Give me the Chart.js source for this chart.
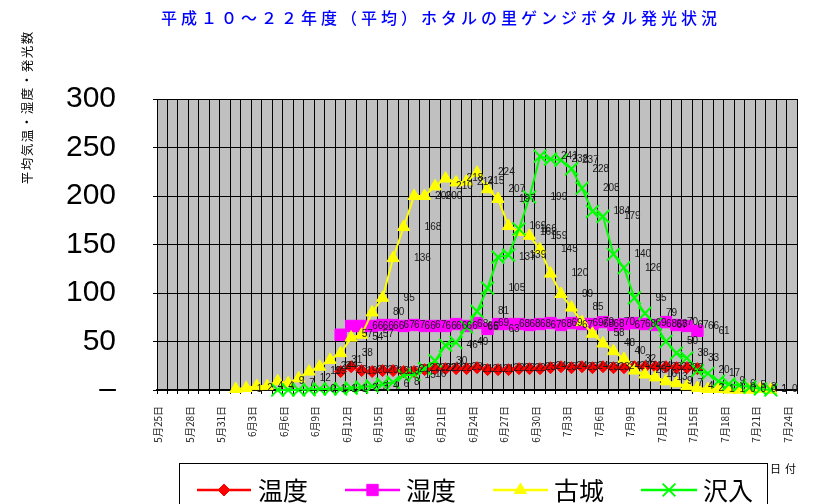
<!DOCTYPE html>
<html>
<head>
<meta charset="utf-8">
<script src="https://cdn.jsdelivr.net/npm/chart.js@4.4.0/dist/chart.umd.min.js"></script>
<style>
html, body { margin: 0; padding: 0; background: #fff; }
canvas { display: block; }
</style>
</head>
<body>
<canvas id="c" width="816" height="504"></canvas>
<script>
const days = [
	"5月25日", "5月26日", "5月27日", "5月28日", "5月29日", "5月30日", "5月31日",
	"6月1日", "6月2日", "6月3日", "6月4日", "6月5日", "6月6日", "6月7日", "6月8日", "6月9日", "6月10日",
	"6月11日", "6月12日", "6月13日", "6月14日", "6月15日", "6月16日", "6月17日", "6月18日", "6月19日", "6月20日",
	"6月21日", "6月22日", "6月23日", "6月24日", "6月25日", "6月26日", "6月27日", "6月28日", "6月29日", "6月30日",
	"7月1日", "7月2日", "7月3日", "7月4日", "7月5日", "7月6日", "7月7日", "7月8日", "7月9日", "7月10日",
	"7月11日", "7月12日", "7月13日", "7月14日", "7月15日", "7月16日", "7月17日", "7月18日", "7月19日", "7月20日",
	"7月21日", "7月22日", "7月23日", "7月24日"
];

// 温度
const temp = [
	null, null, null, null, null, null, null, null, null, null,
	null, null, null, null, null, null, null, 19, 24, 20,
	19, 20, 20, 19, 19, 21, 22, 22, 22, 22,
	23, 21, 21, 21, 22, 22, 22, 23, 24, 23,
	24, 23, 24, 23, 23, 24, 24, 24, 24, 23,
	23, 22, null, null, null, null, null, null, null, null,
	null
];

// 湿度
const humid = [
	null, null, null, null, null, null, null, null, null, null,
	null, null, null, null, null, null, null, 57, 66, 66,
	66, 67, 67, 66, 67, 66, 66, 66, 68, 66,
	69, 63, 68, 68, 68, 67, 68, 69, 67, 69,
	68, 68, 70, 67, 68, 69, 68, 67, 70, 67,
	66, 61, null, null, null, null, null, null, null, null,
	null
];

// 古城
const furushiro = [
	null, null, null, null, null, null, null, 1, 2, 4,
	4, 9, 7, 12, 19, 24, 31, 38, 54, 57,
	80, 95, 136, 168, 200, 200, 210, 218, 214, 215,
	224, 207, 197, 169, 163, 159, 145, 120, 99, 85,
	70, 58, 48, 40, 32, 20, 16, 13, 9, 7,
	4, 2, 1, 1, 0.4, 0.3, 0.3, 1, 0.3, null,
	null
];

// 沢入
const sawairi = [
	null, null, null, null, null, null, null, null, null, null,
	null, 0, 0, 0, 0.4, 1, 1, 1, 2, 3,
	4, 6, 8, 15, 16, 22, 30, 46, 49, 65,
	81, 105, 137, 139, 166, 199, 241, 238, 237, 228,
	208, 184, 179, 140, 126, 95, 79, 68, 50, 38,
	33, 20, 17, 9, 6, 5, 3, 1, 0, null,
	null
];

const yTicks = [0, 50, 100, 150, 200, 250, 300];

const cjk = '"Noto Sans CJK JP", "Noto Sans CJK SC", sans-serif';

function fmt(v) {
	if (v === 0) return "-";
	return String(Math.round(v));
}

function spacedText(ctx, text, cx, cy, spacing) {
	const chars = Array.from(text);
	const widths = chars.map(ch => ctx.measureText(ch).width);
	const total = widths.reduce((a, b) => a + b, 0) + spacing * (chars.length - 1);
	let x = cx - total / 2;
	ctx.textAlign = "left";
	ctx.textBaseline = "middle";
	chars.forEach((ch, i) => {
		ctx.fillText(ch, x, cy);
		x += widths[i] + spacing;
	});
}

const extras = {
	id: "extras",
	beforeDraw(chart) {
		const { ctx, chartArea: a } = chart;
		ctx.save();
		ctx.fillStyle = "#c0c0c0";
		ctx.fillRect(a.left, a.top, a.right - a.left, a.bottom - a.top);
		ctx.restore();
	},
	afterDatasetsDraw(chart) {
		const ctx = chart.ctx;
		ctx.save();
		ctx.font = '10px "Liberation Sans", Arial, sans-serif';
		ctx.fillStyle = "#1a1a1a";
		ctx.textBaseline = "middle";
		chart.data.datasets.forEach((ds, di) => {
			const meta = chart.getDatasetMeta(di);
			meta.data.forEach((pt, i) => {
				const v = ds.data[i];
				if (v === null || v === undefined) return;
				if (di === 0) {
					ctx.textAlign = "center";
					ctx.fillText(fmt(v), pt.x, pt.y);
				} else {
					ctx.textAlign = "left";
					ctx.fillText(fmt(v), pt.x + 21, pt.y);
				}
			});
		});
		ctx.restore();
	},
	afterDraw(chart) {
		const ctx = chart.ctx;
		ctx.save();

		// title
		ctx.font = "500 16px " + cjk;
		ctx.fillStyle = "#0000ff";
		spacedText(ctx, "平成１０～２２年度（平均）ホタルの里ゲンジボタル発光状況", 439, 18, 4);

		// y title
		ctx.save();
		ctx.translate(27, 108);
		ctx.rotate(-Math.PI / 2);
		ctx.font = "12.5px " + cjk;
		ctx.fillStyle = "#000";
		spacedText(ctx, "平均気温・湿度・発光数", 0, 0, 1.5);
		ctx.restore();

		// x title
		ctx.font = "11px " + cjk;
		ctx.fillStyle = "#000";
		spacedText(ctx, "日付", 783, 469, 4);

		// legend
		ctx.strokeStyle = "#000";
		ctx.lineWidth = 1;
		ctx.strokeRect(179.5, 463.5, 588, 60);

		const items = [
			{ x0: 197, x1: 251, tx: 258 },
			{ x0: 345, x1: 400, tx: 406 },
			{ x0: 493, x1: 548, tx: 554 },
			{ x0: 641, x1: 697, tx: 703 }
		];
		const ly = 490;
		items.forEach((it, di) => {
			const ds = chart.data.datasets[di];
			ctx.strokeStyle = ds.borderColor;
			ctx.lineWidth = 2.5;
			ctx.beginPath();
			ctx.moveTo(it.x0, ly);
			ctx.lineTo(it.x1, ly);
			ctx.stroke();
			ctx.fillStyle = ds.pointBackgroundColor;
			ctx.strokeStyle = ds.borderColor;
			ctx.lineWidth = ds.pointBorderWidth;
			Chart.helpers.drawPoint(ctx, {
				pointStyle: ds.pointStyle,
				radius: ds.pointRadius,
				rotation: 0,
				borderWidth: ds.pointBorderWidth
			}, (it.x0 + it.x1) / 2, ly);
			ctx.fillStyle = "#000";
			ctx.font = "25px " + cjk;
			ctx.textAlign = "left";
			ctx.textBaseline = "middle";
			ctx.fillText(ds.label, it.tx, ly);
		});

		ctx.restore();
	}
};

new Chart(document.getElementById("c"), {
	type: "line",
	data: {
		labels: days,
		datasets: [
			{
				label: "温度",
				data: temp,
				borderColor: "#ff0000",
				backgroundColor: "#ff0000",
				pointBackgroundColor: "#ff0000",
				pointStyle: "rectRot",
				pointRadius: 6,
				pointBorderWidth: 1,
				borderWidth: 2,
				order: 4
			},
			{
				label: "湿度",
				data: humid,
				borderColor: "#ff00ff",
				backgroundColor: "#ff00ff",
				pointBackgroundColor: "#ff00ff",
				pointStyle: "rect",
				pointRadius: 8,
				pointBorderWidth: 1,
				borderWidth: 2,
				order: 3
			},
			{
				label: "古城",
				data: furushiro,
				borderColor: "#ffff00",
				backgroundColor: "#ffff00",
				pointBackgroundColor: "#ffff00",
				pointStyle: "triangle",
				pointRadius: 7,
				pointBorderWidth: 1,
				borderWidth: 2,
				order: 2
			},
			{
				label: "沢入",
				data: sawairi,
				borderColor: "#00ff00",
				backgroundColor: "#00ff00",
				pointBackgroundColor: "#00ff00",
				pointStyle: "crossRot",
				pointRadius: 9,
				pointBorderWidth: 2,
				borderWidth: 2,
				order: 1
			}
		]
	},
	options: {
		responsive: false,
		animation: false,
		events: [],
		clip: false,
		layout: {
			padding: { top: 99, right: 16, left: 0, bottom: 0 }
		},
		elements: {
			line: { tension: 0 }
		},
		scales: {
			x: {
				offset: true,
				afterFit: s => { s.height = 114; },
				grid: {
					offset: true,
					color: "#000",
					lineWidth: 1,
					tickLength: 4
				},
				border: { color: "#000", width: 2 },
				ticks: {
					autoSkip: false,
					maxRotation: 90,
					minRotation: 90,
					padding: 12,
					labelOffset: -4,
					color: "#222",
					font: { family: cjk, size: 10 },
					callback: (v, i) => (i % 3 === 0 ? days[i] : "")
				}
			},
			y: {
				min: 0,
				max: 300,
				afterFit: s => { s.width = 157; },
				afterBuildTicks: s => { s.ticks = yTicks.map(v => ({ value: v })); },
				grid: {
					color: "#000",
					lineWidth: 1,
					tickLength: 4
				},
				border: { color: "#000", width: 1 },
				ticks: {
					padding: 37,
					color: "#000",
					font: { family: '"Liberation Sans", Arial, sans-serif', size: 30 },
					callback: v => (v === 0 ? "–" : String(v))
				}
			}
		},
		plugins: {
			legend: { display: false },
			title: { display: false },
			tooltip: { enabled: false }
		}
	},
	plugins: [extras]
});
</script>
</body>
</html>
